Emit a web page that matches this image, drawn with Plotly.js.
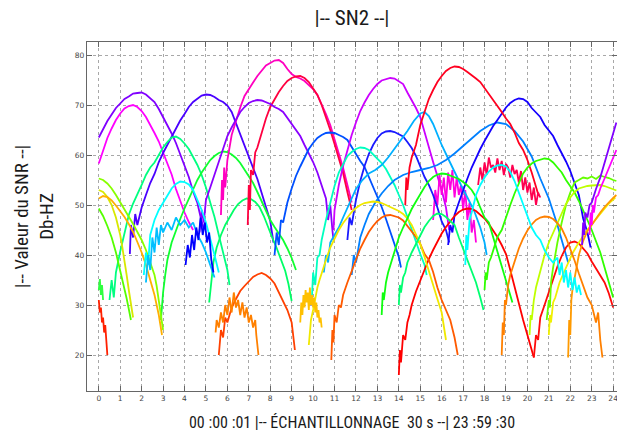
<!DOCTYPE html>
<html>
<head>
<meta charset="utf-8">
<script src="https://cdn.plot.ly/plotly-3.0.1.min.js"></script>
<style>html,body{margin:0;padding:0;background:#fff;}#chart{width:617px;height:432px;}</style>
</head>
<body>
<div id="chart"></div>
<script>
// ---- tick labels ----
const xTickVals = [0,1,2,3,4,5,6,7,8,9,10,11,12,13,14,15,16,17,18,19,20,21,22,23,24];
const yTickVals = [20,30,40,50,60,70,80];

// ---- satellite SNR passes (x = hour, y = dB-Hz) ----
const a01_x = [0,0.2,0.4,0.6,0.8,1.0,1.2,1.4,1.6,1.8,2.0,2.2,2.4,2.6,2.8,3.0,3.2,3.4,3.6,3.8,4.0,4.2,4.4,4.6,4.75,4.9];
const a01_y = [63.5,65.2,66.8,68.1,69.4,70.3,71.2,71.7,72.3,72.4,72.5,72.1,71.4,70.6,69.2,67.6,66.2,64.3,62.4,60.1,57.8,55.6,52.7,50.4,47.6,45.2];
const a02_x = [0,0.2,0.4,0.6,0.8,1.0,1.2,1.4,1.6,1.8,2.0,2.2,2.4,2.6,2.8,3.0,3.2,3.4,3.6,3.8,4.0,4.2,4.4];
const a02_y = [58.3,61.0,63.4,65.3,67.0,68.3,69.3,69.8,70.0,69.6,68.8,67.6,66.1,64.4,62.7,60.4,58.0,56.1,53.2,50.8,48.5,46.6,45.0];
const a03_x = [1.45,1.5,1.6,1.7,1.8,2.0,2.2,2.4,2.6,2.8,3.0,3.2,3.4,3.6,3.8,4.0,4.2,4.4,4.6,4.8,5.0,5.2,5.4,5.6,5.8,6.0,6.2,6.4,6.6,6.8,7.0,7.2,7.4,7.6,7.8,8.0,8.15];
const a03_y = [40.2,46.0,43.5,48.2,46.0,49.5,52.0,54.4,56.2,58.6,60.4,62.0,63.6,65.4,66.9,68.2,69.6,70.6,71.3,71.9,72.1,72.0,71.6,71.0,70.6,69.9,68.6,66.4,64.4,62.1,59.7,57.5,55.2,52.4,49.6,46.8,42.5];
const a04_x = [0.5,0.6,0.7,0.8,1.0,1.2,1.4,1.6,1.8,2.0,2.2,2.4,2.6,2.8,3.0,3.2,3.4,3.6,3.8,4.0,4.2,4.4,4.6,4.8,5.0,5.2,5.4,5.6,5.8,6.0,6.1];
const a04_y = [31.0,35.0,31.5,36.5,40.7,44.5,48.0,50.3,52.0,54.0,56.0,57.5,58.5,60.0,61.5,62.6,63.5,63.7,63.2,62.3,61.2,59.6,58.0,56.0,53.5,50.5,47.6,44.0,40.5,37.0,34.0];
const a05_x = [2.9,3.0,3.1,3.2,3.4,3.6,3.8,4.0,4.2,4.4,4.6,4.8,5.0,5.2,5.4,5.6,5.8,6.0,6.2,6.4,6.6,6.8,7.0,7.2,7.4,7.6,7.8,8.0,8.2,8.4,8.6,8.8,9.0,9.2];
const a05_y = [27.0,32.5,36.0,39.0,42.5,45.0,47.2,49.3,51.2,53.3,55.0,56.5,57.8,59.0,59.8,60.4,60.7,60.6,60.1,59.4,58.4,57.0,55.6,54.4,52.6,50.8,48.9,47.0,45.6,44.2,43.0,41.3,39.4,37.0];
const a06_x = [5.15,5.25,5.35,5.5,5.7,5.9,6.1,6.3,6.5,6.7,6.9,7.1,7.3,7.5,7.7,7.9,8.1,8.3,8.5,8.7,8.85,9.0];
const a06_y = [30.5,35.0,38.6,41.5,44.0,46.0,47.6,49.0,50.2,50.9,51.3,51.2,50.6,49.6,47.8,45.5,43.4,41.4,39.3,36.8,34.2,30.8];
const a07_x = [5.7,5.75,5.8,5.85,5.9,6.0,6.2,6.4,6.6,6.8,7.0,7.2,7.4,7.6,7.8,8.0,8.2,8.4,8.6,8.8,9.0,9.2,9.4,9.6,9.8,10.0,10.2,10.4,10.6,10.8,11.0,11.2,11.4,11.6,11.8];
const a07_y = [48.0,55.0,51.0,57.5,53.5,59.0,64.0,67.0,69.5,71.8,73.3,74.5,75.8,76.8,77.9,78.4,78.9,79.0,78.4,77.2,76.2,75.6,75.3,74.8,74.0,73.2,72.0,70.2,68.2,66.0,63.2,60.5,57.4,54.0,50.5];
const a08_x = [6.95,7.0,7.05,7.1,7.2,7.3,7.4,7.6,7.8,8.0,8.2,8.4,8.6,8.8,9.0,9.2,9.4,9.6,9.8,10.0,10.2,10.4,10.6,10.8,11.0,11.2,11.4,11.6,11.8];
const a08_y = [46.0,54.0,49.0,57.0,56.0,60.5,61.5,64.5,67.3,69.6,71.2,72.6,73.8,74.8,75.4,75.7,75.8,75.4,74.6,73.4,72.0,70.0,67.6,65.0,62.2,59.4,56.4,52.6,49.0];
const a09_x = [4.7,4.8,4.9,5.0,5.2,5.4,5.6,5.8,6.0,6.2,6.4,6.6,6.8,7.0,7.2,7.4,7.6,7.8,8.0,8.2,8.4,8.6,8.8,9.0,9.2,9.4,9.6,9.8,10.0,10.2,10.4,10.6,10.7,10.8,10.9,10.95];
const a09_y = [44.5,49.0,46.5,51.0,53.5,56.2,58.7,61.5,63.8,65.5,67.2,68.6,69.6,70.4,70.8,71.0,70.9,70.6,70.2,69.6,69.2,68.6,67.4,66.2,65.2,63.8,62.0,60.4,58.6,56.5,54.0,51.3,47.0,50.0,45.0,43.0];
const a10_x = [8.2,8.3,8.4,8.5,8.6,8.8,9.0,9.2,9.4,9.6,9.8,10.0,10.2,10.4,10.6,10.8,11.0,11.2,11.4,11.6,11.8,12.0,12.2,12.4,12.6,12.8,13.0,13.2,13.4,13.6,13.8,14.0,14.1];
const a10_y = [40.0,44.5,42.0,47.0,46.5,50.5,53.3,55.8,57.7,59.6,61.2,62.4,63.4,64.0,64.4,64.5,64.4,64.0,63.6,63.0,61.5,60.2,58.8,57.6,55.6,53.3,51.3,49.6,47.2,44.8,42.0,39.6,37.5];
const a11_x = [5.6,5.7,5.8,5.9,6.0,6.2,6.4,6.6,6.8,7.0,7.2,7.4,7.6,7.8,8.0,8.2,8.4,8.6,8.8,9.0,9.1,9.15];
const a11_y = [20.0,25.0,23.5,27.5,26.5,29.5,31.2,32.8,33.8,34.8,35.6,36.1,36.4,36.0,35.3,34.3,32.6,31.0,29.0,26.5,23.0,21.0];
const a12_x = [5.45,5.5,5.6,5.7,5.8,5.9,6.0,6.1,6.2,6.3,6.4,6.5,6.6,6.7,6.8,6.9,7.0,7.1,7.2,7.3,7.35,7.4,7.45];
const a12_y = [24.5,27.0,25.5,28.5,26.5,30.0,28.0,31.5,28.5,32.5,29.5,31.0,28.0,30.5,27.5,29.5,26.5,28.0,25.5,27.0,24.0,22.5,20.0];
const a13_x = [0,0.05,0.1,0.15,0.2,0.25,0.3,0.35,0.4];
const a13_y = [31.0,28.5,29.5,26.5,27.5,24.5,26.0,22.0,20.0];
const a14_x = [0,0.05,0.1,0.15,0.2];
const a14_y = [33.0,35.2,32.0,34.0,31.0];
const a15_x = [0,0.2,0.4,0.6,0.8,1.0,1.2,1.4,1.6,1.8,2.0,2.2,2.4,2.6,2.7,2.8,2.9,3.0];
const a15_y = [55.3,55.0,54.3,53.3,52.0,50.6,49.2,47.8,46.2,44.6,43.0,41.0,38.6,36.0,33.8,31.0,28.0,25.0];
const a16_x = [0,0.2,0.4,0.6,0.8,1.0,1.1,1.2,1.3,1.4,1.5,1.6];
const a16_y = [53.0,52.6,51.6,50.0,47.5,44.0,41.5,39.0,36.0,33.0,30.0,27.5];
const a17_x = [0,0.2,0.4,0.6,0.8,1.0,1.2,1.4,1.6,1.8,2.0,2.2,2.4,2.6,2.8,2.95];
const a17_y = [51.3,51.8,51.6,50.9,49.9,48.8,47.6,46.2,44.6,42.6,40.5,38.0,35.2,32.0,28.0,24.0];
const a18_x = [0,0.2,0.4,0.6,0.8,1.0,1.2,1.3,1.4,1.5];
const a18_y = [49.3,47.8,45.8,43.5,40.5,37.0,33.5,31.3,29.2,27.0];
const a19_x = [2.1,2.2,2.3,2.4,2.5,2.6,2.8,3.0,3.2,3.4,3.6,3.8,4.0,4.2,4.4,4.6,4.8,5.0,5.2,5.4,5.6];
const a19_y = [36.0,40.5,38.0,44.0,45.5,47.0,49.0,50.5,52.0,53.3,54.2,54.7,54.6,54.1,53.0,51.0,49.0,46.5,43.5,40.0,36.5];
const a20_x = [2.2,2.3,2.4,2.5,2.6,2.7,2.8,2.9,3.0,3.2,3.4,3.6,3.8,4.0,4.2,4.4,4.6,4.8,5.0,5.2,5.4];
const a20_y = [34.5,40.0,37.0,43.5,40.5,45.5,42.0,46.0,44.5,46.5,45.0,47.5,46.0,47.0,45.5,46.5,44.0,42.5,40.5,38.0,35.5];
const a21_x = [4.05,4.15,4.25,4.35,4.45,4.55,4.65,4.75,4.85,4.95,5.05,5.15,5.25,5.35];
const a21_y = [38.0,42.0,39.5,44.0,41.0,45.5,43.0,47.5,44.0,46.5,42.5,44.5,39.0,36.5];
const a22_x = [10.95,11.0,11.1,11.2,11.4,11.6,11.8,12.0,12.2,12.4,12.6,12.8,13.0,13.2,13.4,13.6,13.8,14.0,14.2,14.4,14.6,14.8,15.0,15.2,15.4,15.6,15.8,16.0,16.2,16.35];
const a22_y = [45.0,49.0,51.5,54.0,57.8,61.0,64.0,66.5,68.8,70.5,72.0,73.2,74.2,74.9,75.2,75.4,75.3,74.8,74.2,72.5,71.0,69.4,67.6,64.5,61.8,58.6,55.8,53.0,49.5,45.0];
const a23_x = [15.6,15.7,15.8,15.9,16.0,16.1,16.2,16.3,16.4,16.5,16.6,16.7,16.8,16.9,17.0,17.1,17.2,17.3,17.4,17.5,17.6];
const a23_y = [47.0,53.0,50.0,56.0,52.0,55.5,50.5,56.5,53.0,57.0,51.5,55.5,52.0,54.0,49.0,53.0,47.0,50.5,44.5,47.0,42.5];
const a24_x = [11.6,11.7,11.8,12.0,12.2,12.4,12.6,12.8,13.0,13.2,13.4,13.6,13.8,14.0,14.2,14.4,14.6,14.8,15.0,15.2,15.4,15.6,15.8,16.0,16.2,16.35];
const a24_y = [43.0,47.5,46.0,51.0,54.8,57.8,60.2,62.0,63.4,64.3,64.7,64.8,64.6,64.2,63.7,62.6,61.4,59.8,57.8,55.6,54.0,52.0,49.5,46.7,45.0,42.5];
const a25_x = [9.95,10.0,10.1,10.2,10.3,10.4,10.6,10.8,11.0,11.2,11.4,11.6,11.8,12.0,12.2,12.4,12.6,12.8,13.0,13.2,13.4,13.6,13.8,14.0,14.2,14.4,14.6,14.8,15.0,15.2,15.3];
const a25_y = [32.0,36.5,34.0,39.5,40.0,43.0,47.0,50.5,53.8,56.5,58.2,59.8,60.6,61.2,61.5,61.4,61.0,60.2,59.3,58.4,57.2,55.6,54.0,52.0,50.0,47.6,45.0,42.5,40.2,38.0,36.0];
const a26_x = [10.5,10.6,10.7,10.8,11.0,11.2,11.4,11.6,11.8,12.0,12.3,12.6,12.9,13.2,13.5,13.8,14.1,14.4,14.7,15.0,15.2,15.4,15.6,15.8,16.0,16.3,16.6,16.9,17.2,17.5,17.8,18.0,18.1];
const a26_y = [36.5,40.0,38.5,42.5,44.0,45.5,47.5,49.5,51.5,53.2,55.0,56.3,57.0,58.0,59.5,61.2,63.0,64.8,66.8,68.3,68.6,67.8,66.2,64.0,62.0,59.3,56.5,54.0,51.5,49.0,45.5,42.5,40.0];
const a27_x = [11.8,11.9,12.0,12.2,12.4,12.6,12.9,13.2,13.5,13.8,14.2,14.6,15.0,15.4,15.8,16.2,16.6,17.0,17.4,17.8,18.2,18.6,19.0,19.4,19.8,20.2,20.6,21.0,21.4,21.7,21.9];
const a27_y = [36.0,40.0,38.5,43.5,46.0,48.2,50.5,52.3,53.8,55.0,56.0,56.6,57.0,57.4,58.0,59.0,60.3,61.8,63.3,64.8,65.9,66.5,66.2,64.8,62.7,59.7,55.3,51.3,46.0,41.8,38.5];
const a28_x = [16.3,16.4,16.5,16.6,16.8,17.0,17.2,17.4,17.6,17.8,18.0,18.2,18.4,18.6,18.8,19.0,19.2,19.4,19.6,19.8,20.0,20.2,20.4,20.6,20.8,21.0,21.2,21.4,21.6,21.8,22.0,22.2,22.4,22.6,22.8,22.95];
const a28_y = [42.0,46.0,44.5,48.0,50.5,53.0,55.3,57.5,59.4,61.2,62.8,64.4,65.8,67.0,68.2,69.5,70.4,71.0,71.3,71.2,70.6,69.4,68.5,67.6,66.0,64.8,63.8,62.0,60.4,58.7,56.8,54.6,52.0,47.3,44.5,41.5];
const a29_x = [14.3,14.35,14.4,14.5,14.6,14.8,15.0,15.2,15.4,15.6,15.8,16.0,16.2,16.4,16.6,16.8,17.0,17.2,17.4,17.6,17.8,18.0,18.2,18.4,18.6,18.8,19.0,19.2,19.4,19.6,19.8,20.0,20.2,20.35,20.5];
const a29_y = [50.0,55.5,53.0,57.5,59.5,62.0,66.0,68.8,71.2,73.0,74.6,75.8,76.8,77.4,77.7,77.6,77.2,76.6,76.0,75.3,74.6,73.4,72.2,71.2,70.0,68.6,67.3,66.2,64.5,62.4,61.0,59.0,56.5,54.5,52.2];
const a30_x = [17.7,17.8,17.9,18.0,18.1,18.2,18.3,18.4,18.5,18.6,18.7,18.8,18.9,19.0,19.1,19.2,19.3,19.4,19.5,19.6,19.7,19.8,19.9,20.0,20.1,20.2,20.3,20.4,20.5,20.6];
const a30_y = [54.0,57.5,55.0,58.5,56.0,59.5,57.5,58.0,56.5,59.3,57.0,58.8,56.0,58.2,57.5,55.5,58.0,56.2,57.0,54.5,56.8,53.0,55.5,52.5,54.5,51.0,53.5,50.0,52.5,51.5];
const a31_x = [14.0,14.05,14.1,14.2,14.3,14.4,14.5,14.6,14.8,15.0,15.2,15.4,15.6,15.8,16.0,16.2,16.4,16.6,16.8,17.0,17.2,17.4,17.6,17.8,18.0,18.2,18.4,18.6,18.8,19.0,19.2,19.4,19.6,19.8,20.0,20.2,20.3];
const a31_y = [16.0,21.0,18.5,24.0,23.0,26.5,28.0,30.0,32.7,35.0,37.3,39.2,41.0,42.8,44.3,45.6,46.8,47.8,48.6,49.1,49.3,49.2,48.8,48.0,47.3,46.2,45.0,43.6,42.0,40.2,37.0,33.5,30.5,27.0,24.0,21.0,19.5];
const a32_x = [20.3,20.4,20.5,20.6,20.8,21.0,21.2,21.4,21.6,21.8,22.0,22.2,22.4,22.6,22.8,23.0,23.2,23.4,23.6,23.8,24.0];
const a32_y = [19.5,24.0,23.0,27.5,30.0,32.5,35.3,37.7,39.8,41.5,42.5,42.7,42.3,41.4,40.3,38.7,37.2,35.8,34.5,32.3,29.5];
const a33_x = [10.85,10.9,10.95,11.0,11.1,11.2,11.3,11.4,11.6,11.8,12.0,12.2,12.4,12.6,12.8,13.0,13.2,13.4,13.6,13.8,14.0,14.2,14.4,14.6,14.8,15.0,15.2,15.4,15.6,15.8,16.0,16.2,16.4,16.6,16.75];
const a33_y = [19.0,25.0,22.5,28.0,26.5,30.0,29.5,32.0,34.5,36.8,39.2,41.3,43.0,44.6,45.8,46.8,47.5,47.9,48.0,47.8,47.5,46.9,45.8,44.6,43.6,42.2,40.2,39.0,36.6,33.5,31.0,29.0,27.0,23.5,20.0];
const a34_x = [9.8,9.85,9.9,10.0,10.1,10.2,10.3,10.4,10.6,10.8,11.0,11.2,11.4,11.6,11.8,12.0,12.2,12.4,12.6,12.8,13.0,13.2,13.4,13.6,13.8,14.0,14.2,14.4,14.6,14.8,15.0,15.2,15.4,15.6,15.8,16.0,16.2];
const a34_y = [22.0,25.5,27.0,29.0,31.5,33.5,35.0,36.5,39.0,41.5,43.3,45.0,46.4,47.6,48.6,49.4,50.0,50.4,50.6,50.7,50.6,50.4,50.0,49.6,49.2,48.8,48.2,47.3,46.0,44.2,42.2,39.6,37.0,34.0,31.2,28.5,23.0];
const a35_x = [9.4,9.45,9.5,9.55,9.6,9.65,9.7,9.75,9.8,9.85,9.9,9.95,10.0,10.05,10.1,10.15,10.2,10.25,10.3,10.35,10.4];
const a35_y = [26.5,30.5,28.0,32.0,29.5,33.0,30.5,32.5,29.0,33.5,30.0,32.0,29.5,31.5,28.5,30.5,27.5,29.0,26.5,27.5,25.5];
const a36_x = [13.2,13.25,13.3,13.4,13.5,13.6,13.8,14.0,14.2,14.4,14.6,14.8,15.0,15.2,15.4,15.6,15.8,16.0,16.2,16.4,16.6,16.8,17.0,17.2,17.4,17.6,17.8,18.0,18.2,18.4,18.6,18.8,19.0,19.2,19.3];
const a36_y = [28.0,32.5,31.0,34.5,36.5,38.0,41.0,43.5,45.5,47.5,49.2,50.7,52.3,53.6,54.8,55.6,56.1,56.3,56.2,55.9,55.5,55.2,54.6,53.9,53.0,51.6,49.5,47.5,46.5,43.5,41.0,38.0,35.0,32.0,30.5];
const a37_x = [14.0,14.05,14.1,14.2,14.3,14.4,14.6,14.8,15.0,15.2,15.4,15.6,15.8,16.0,16.2,16.4,16.6,16.8,17.0,17.2,17.4,17.6,17.8,17.95];
const a37_y = [30.0,34.0,32.5,35.5,36.5,38.5,40.5,42.3,44.0,45.6,46.8,47.8,48.3,48.2,47.6,46.8,46.0,43.5,41.3,39.3,37.0,34.5,31.5,29.0];
const a38_x = [18.0,18.05,18.1,18.2,18.3,18.4,18.6,18.8,19.0,19.2,19.4,19.6,19.8,20.0,20.2,20.4,20.6,20.8,21.0,21.2,21.4,21.6,21.8,22.0,22.2,22.4,22.6,22.8,23.0,23.2,23.4,23.6,23.8,24.0];
const a38_y = [33.0,36.5,35.0,38.5,39.5,41.0,43.6,45.0,47.6,50.0,52.3,54.5,56.3,57.5,58.3,58.8,59.1,59.3,59.2,58.5,57.5,56.5,55.0,53.8,52.5,50.8,48.7,47.0,45.0,42.8,40.5,37.5,34.5,31.5];
const a39_x = [20.9,21.0,21.05,21.1,21.2,21.3,21.4,21.6,21.8,22.0,22.2,22.4,22.6,22.8,23.0,23.2,23.4,23.6,23.8,24.0,24.15];
const a39_y = [27.0,31.0,29.5,34.5,37.5,40.0,42.5,46.5,50.0,52.5,54.5,55.0,55.5,55.3,55.7,55.2,55.9,55.6,55.4,55.0,54.8];
const a40_x = [20.1,20.15,20.2,20.3,20.4,20.6,20.8,21.0,21.2,21.4,21.6,21.8,22.0,22.2,22.4,22.6,22.8,23.0,23.2,23.4,23.6,23.8,24.0,24.15];
const a40_y = [24.0,28.0,27.0,31.0,33.5,37.0,40.0,42.5,44.5,46.3,48.2,50.2,51.5,52.6,53.3,53.6,53.8,53.9,54.0,54.0,53.8,53.5,53.2,52.9];
const a41_x = [21.0,21.05,21.1,21.2,21.3,21.4,21.5,21.7,21.9,22.1,22.3,22.5,22.7,22.9,23.1,23.3,23.5,23.7,23.9,24.1];
const a41_y = [24.0,28.0,26.5,30.5,31.5,33.0,34.5,36.5,38.5,40.3,41.8,43.2,44.5,45.6,46.7,47.8,48.8,49.8,50.7,51.5];
const a42_x = [21.9,21.95,22.0,22.05,22.1,22.2,22.3,22.4,22.6,22.8,23.0,23.2,23.4,23.6,23.8,24.0,24.15];
const a42_y = [19.5,27.0,24.0,31.0,33.0,35.5,37.8,40.0,42.8,44.8,46.0,47.3,48.5,49.6,50.6,51.4,52.0];
const a43_x = [18.8,18.85,18.9,18.95,19.0,19.1,19.2,19.4,19.6,19.8,20.0,20.2,20.4,20.6,20.8,21.0,21.2,21.4,21.6,21.8,22.0,22.2,22.4,22.6,22.8,23.0,23.2,23.3,23.4,23.5];
const a43_y = [20.0,26.5,24.0,31.0,30.0,34.0,36.0,38.8,41.3,43.3,44.9,46.1,47.0,47.5,47.7,47.6,47.2,46.4,45.3,43.5,41.3,38.9,36.3,34.0,31.5,30.0,26.5,28.5,23.0,19.5];
const a44_x = [17.1,17.15,17.2,17.3,17.4,17.5,17.6,17.8,18.0,18.2,18.4,18.6,18.8,19.0,19.2,19.4,19.6,19.8,20.0,20.2,20.4,20.6,20.8,21.0,21.2,21.4,21.5,21.6,21.7,21.8,21.9,22.0,22.1,22.2,22.3,22.4,22.5];
const a44_y = [38.0,44.0,41.0,47.0,48.5,50.5,52.0,54.0,55.5,56.7,57.5,57.9,58.0,57.7,56.6,54.8,52.5,50.0,47.5,45.5,44.0,43.0,41.0,39.5,38.5,39.5,36.0,38.5,34.5,37.0,33.5,36.5,33.0,35.5,32.5,34.0,32.0];
const a45_x = [22.55,22.6,22.65,22.7,22.8,22.9,23.0,23.1,23.2,23.4,23.6,23.8,24.0,24.15];
const a45_y = [42.0,46.5,44.0,48.5,47.5,50.0,50.5,52.0,53.2,55.5,58.5,61.5,64.5,66.5];
const a46_x = [22.9,22.95,23.0,23.05,23.1,23.2,23.3,23.4,23.6,23.8,24.0,24.15];
const a46_y = [44.0,48.5,46.0,50.0,48.5,51.5,52.0,53.3,55.3,57.3,59.3,61.0];

const arcs = [
  [a01_x,a01_y],[a02_x,a02_y],[a03_x,a03_y],[a04_x,a04_y],[a05_x,a05_y],[a06_x,a06_y],
  [a07_x,a07_y],[a08_x,a08_y],[a09_x,a09_y],[a10_x,a10_y],[a11_x,a11_y],[a12_x,a12_y],
  [a13_x,a13_y],[a14_x,a14_y],[a15_x,a15_y],[a16_x,a16_y],[a17_x,a17_y],[a18_x,a18_y],
  [a19_x,a19_y],[a20_x,a20_y],[a21_x,a21_y],[a22_x,a22_y],[a23_x,a23_y],[a24_x,a24_y],
  [a25_x,a25_y],[a26_x,a26_y],[a27_x,a27_y],[a28_x,a28_y],[a29_x,a29_y],[a30_x,a30_y],
  [a31_x,a31_y],[a32_x,a32_y],[a33_x,a33_y],[a34_x,a34_y],[a35_x,a35_y],[a36_x,a36_y],
  [a37_x,a37_y],[a38_x,a38_y],[a39_x,a39_y],[a40_x,a40_y],[a41_x,a41_y],[a42_x,a42_y],
  [a43_x,a43_y],[a44_x,a44_y],[a45_x,a45_y],[a46_x,a46_y]
];

// ---- styles (one colour per pass) ----
const arcColors = [
  '#8000ff','#ff00ff','#4a00ff','#00ff80','#10ff30','#00ff66',
  '#ff00c0','#ff0040','#8a00ff','#0050ff','#ff4000','#ff8000',
  '#ff2000','#30ff40','#88ff00','#d8e800','#ffb000','#55ff00',
  '#00ffff','#00bfff','#0000ff','#cc00ff','#ff00e0','#1a1aff',
  '#00ffc0','#00b0ff','#0080ff','#1500ff','#ff0020','#ff0050',
  '#ff0000','#ff0a0a','#ff5a00','#f0e800','#ffc000','#10ff10',
  '#00ff70','#30ff00','#66ff00','#bfff00','#f0f000','#ff9a00',
  '#ff8000','#00ffff','#8000ff','#ff00ff'
];

const fontTitle = 'Roboto Condensed, DejaVu Sans Condensed, sans-serif';
const fontTick = 'DejaVu Sans, sans-serif';

const traces = arcs.map((a, i) => ({
  x: a[0], y: a[1], type: 'scatter', mode: 'lines',
  line: {color: arcColors[i], width: 1.8},
  hoverinfo: 'skip', showlegend: false
}));

const axisCommon = {
  ticks: 'inside', ticklen: 5, tickcolor: '#666',
  showline: true, linecolor: '#666', linewidth: 1.2, mirror: 'allticks',
  showgrid: true, gridcolor: '#a8a8a8', griddash: 'dot', gridwidth: 1,
  zeroline: false, automargin: false, ticklabeloverflow: 'allow',
  tickfont: {family: fontTick, size: 7.5, color: '#444'}
};

const layout = {
  width: 617, height: 432,
  margin: {l: 87, r: 0, t: 42, b: 41},
  paper_bgcolor: '#ffffff', plot_bgcolor: '#ffffff',
  showlegend: false,
  title: {
    text: '|-- SN2 --|',
    font: {family: fontTitle, size: 21, color: '#1a1a1a'},
    x: 0.5, xref: 'paper', xanchor: 'center', y: 0.958, yref: 'container', yanchor: 'middle'
  },
  xaxis: Object.assign({}, axisCommon, {
    range: [-0.55, 24.18],
    tickmode: 'array', tickvals: xTickVals, ticktext: xTickVals.map(String),
    title: {
      text: '00 :00 :01 |-- ÉCHANTILLONNAGE  30 s --| 23 :59 :30',
      font: {family: fontTitle, size: 16, color: '#1a1a1a'},
      standoff: 16
    }
  }),
  yaxis: Object.assign({}, axisCommon, {
    range: [12.8, 82.6],
    tickmode: 'array', tickvals: yTickVals, ticktext: yTickVals.map(String),
    title: {
      text: '|-- Valeur du SNR --|<br>Db-HZ',
      font: {family: fontTitle, size: 19, color: '#1a1a1a'},
      standoff: 16
    }
  })
};

Plotly.newPlot('chart', traces, layout, {staticPlot: true, displayModeBar: false});
</script>
</body>
</html>
